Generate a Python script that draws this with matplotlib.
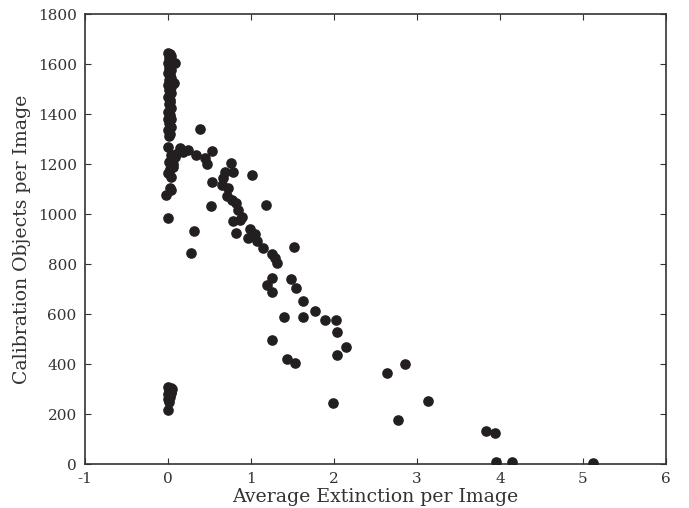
import matplotlib
matplotlib.use("Agg")
import matplotlib.pyplot as plt

# extinction (x) and calibration objects (y)
col_x = [0.00, 0.02, 0.04, 0.01, 0.03, 0.00, 0.02, 0.05, 0.01, 0.03,
         0.00, 0.02, 0.04, 0.01, 0.03, 0.00, 0.02, 0.04, 0.01, 0.03,
         0.00, 0.02, 0.01, 0.03, 0.00, 0.02, 0.04, 0.01, 0.03, 0.00,
         0.02, 0.01, 0.08, 0.07, 0.02, 0.00]
col_y = [1645, 1640, 1632, 1625, 1615, 1605, 1595, 1603, 1585, 1575,
         1565, 1555, 1545, 1535, 1525, 1515, 1505, 1510, 1495, 1485,
         1470, 1455, 1440, 1425, 1410, 1395, 1380, 1365, 1350, 1335,
         1322, 1312, 1604, 1524, 1450, 1380]

clus_x = [0.00, 0.03, 0.08, 0.145, 0.245, 0.18, 0.01, 0.05, 0.03, 0.10,
          0.056, 0.00, 0.03, 0.02, 0.04, -0.02, 0.00, 0.02, 0.06]
clus_y = [1269, 1236, 1229, 1263, 1256, 1250, 1209, 1223, 1215, 1240,
          1189, 1163, 1149, 1103, 1098, 1076, 983, 1180, 1200]

mid_x = [0.386, 0.53, 0.446, 0.337, 0.474, 0.755, 0.787, 0.687, 1.008, 0.53,
         0.667, 0.646, 0.727, 0.707, 0.767, 0.82, 1.177, 0.52, 0.847, 0.888,
         0.787, 0.867, 0.988, 1.048, 0.96, 0.82, 1.076, 1.148, 1.522, 0.313,
         0.273, 1.249, 1.289, 1.317, 1.249, 1.482, 1.197, 1.538, 1.257, 1.63,
         1.771, 1.401, 1.63, 1.892, 2.024, 2.032, 1.257, 2.148, 2.04, 1.438,
         1.53, 2.859, 2.634, 1.992, 2.767, 3.133, 3.827, 3.94, 3.948, 4.145,
         5.12]
mid_y = [1340, 1253, 1224, 1236, 1200, 1205, 1169, 1169, 1155, 1127,
         1143, 1116, 1103, 1072, 1056, 1043, 1035, 1032, 1016, 989,
         972, 976, 940, 919, 905, 923, 892, 865, 869, 932,
         843, 839, 823, 803, 745, 741, 716, 705, 688, 651,
         612, 589, 589, 576, 576, 527, 495, 469, 436, 421,
         403, 400, 363, 245, 176, 252, 132, 124, 9, 9,
         3]

low_x = [0.00, 0.03, 0.05, 0.01, 0.04, 0.00, 0.02, 0.00, 0.01, 0.00, 0.03]
low_y = [310, 305, 300, 295, 290, 280, 270, 260, 250, 215, 285]

xs = col_x + clus_x + mid_x + low_x
ys = col_y + clus_y + mid_y + low_y

plt.rcParams['font.family'] = 'DejaVu Serif'
plt.rcParams['axes.unicode_minus'] = False
plt.rcParams['text.color'] = '#333333'
plt.rcParams['axes.labelcolor'] = '#333333'
plt.rcParams['xtick.color'] = '#333333'
plt.rcParams['ytick.color'] = '#333333'

fig = plt.figure(figsize=(6.89, 5.08), dpi=100)
ax = fig.add_axes([0.1234, 0.0866, 0.8432, 0.8858])
ax.scatter(xs, ys, s=44, color='#231f20', edgecolors='#231f20', zorder=3)

ax.set_xlim(-1, 6)
ax.set_ylim(0, 1800)
ax.set_xticks(range(-1, 7))
ax.set_yticks(range(0, 1801, 200))
ax.tick_params(direction='in', top=True, right=True, length=4, labelsize=11, pad=6)
for sp in ax.spines.values():
    sp.set_color('#333333')
    sp.set_linewidth(1.2)

ax.set_xlabel('Average Extinction per Image', fontsize=13.6, labelpad=1)
ax.set_ylabel('Calibration Objects per Image', fontsize=13.6, labelpad=5)

fig.savefig('out.png', dpi=100)
